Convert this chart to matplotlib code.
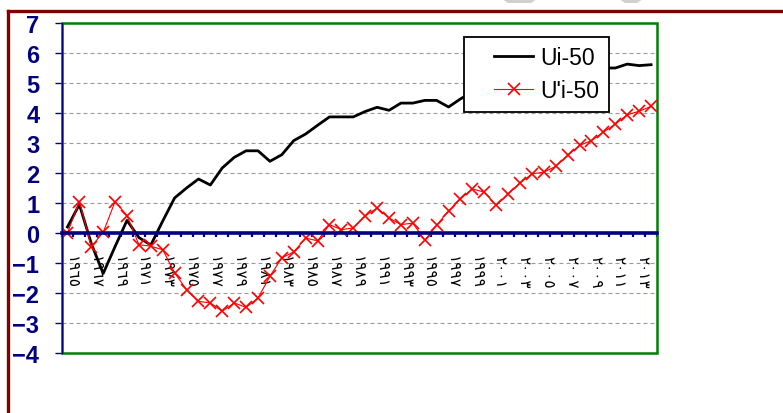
import numpy as np
import matplotlib
matplotlib.use("Agg")
import matplotlib.pyplot as plt
from matplotlib.lines import Line2D
from matplotlib.patches import Rectangle, Polygon
from matplotlib.transforms import ScaledTranslation
from matplotlib.legend_handler import HandlerLine2D

# data
years = list(range(1965, 2015))
year_labels = ['١٩٦٥', '١٩٦٧', '١٩٦٩', '١٩٧١', '١٩٧٣', '١٩٧٥', '١٩٧٧', '١٩٧٩',
               '١٩٨١', '١٩٨٣', '١٩٨٥', '١٩٨٧', '١٩٨٩', '١٩٩١', '١٩٩٣', '١٩٩٥',
               '١٩٩٧', '١٩٩٩', '٢٠٠١', '٢٠٠٣', '٢٠٠٥', '٢٠٠٧', '٢٠٠٩', '٢٠١١', '٢٠١٣']

ui50 = [0.2, 0.95, -0.35, -1.35, -0.45, 0.42, -0.15, -0.4, 0.4, 1.17,
        1.5, 1.8, 1.6, 2.17, 2.52, 2.74, 2.74, 2.39, 2.61, 3.08,
        3.3, 3.59, 3.87, 3.87, 3.87, 4.05, 4.19, 4.09, 4.33, 4.33,
        4.42, 4.42, 4.2, 4.47, 4.7, 4.8, 4.9, 5.0, 5.1, 5.2,
        5.25, 5.3, 5.35, 5.4, 5.45, 5.5, 5.5, 5.63, 5.58, 5.61]

upi50 = [0.0, 1.05, -0.45, 0.02, 1.05, 0.58, -0.39, -0.44, -0.56, -1.33,
         -1.89, -2.28, -2.33, -2.61, -2.33, -2.48, -2.17, -1.44, -0.83, -0.63,
         -0.17, -0.26, 0.28, 0.11, 0.17, 0.57, 0.83, 0.5, 0.28, 0.33,
         -0.24, 0.26, 0.74, 1.14, 1.47, 1.36, 0.92, 1.3, 1.67, 1.97,
         2.03, 2.22, 2.59, 2.92, 3.08, 3.36, 3.63, 3.94, 4.06, 4.22]

navy = '#000080'
W, H = 783, 414

fig = plt.figure(figsize=(W / 100, H / 100), dpi=100)
ax = fig.add_axes([61.5 / W, 1 - 354 / H, 595.5 / W, 330 / H])

x = np.arange(len(years))
ax.plot(x, ui50, color='black', lw=2.0, label='Ui-50', zorder=3)
ax.plot(x, upi50, color='red', lw=0.8, marker='x', ms=8, mew=1.2,
        label="U'i-50", zorder=4)

ax.set_xlim(-0.5, len(years) - 0.5)
ax.set_ylim(-4, 7)

# grid
for v in [-3, -2, -1, 1, 2, 3, 4, 5, 6]:
    ax.axhline(v, color='#9a9a9a', lw=0.8, ls=(0, (3.6, 2.7)), zorder=1)

# frame
for s in ['top', 'right']:
    ax.spines[s].set_visible(False)
ax.add_patch(Rectangle((0, 0), 1, 1, transform=ax.transAxes, fill=False,
                       ec='#008000', lw=1.8, clip_on=False, zorder=2))
ax.spines['left'].set_color(navy)
ax.spines['left'].set_linewidth(1.0)
ax.spines['left'].set_zorder(5)
ax.spines['bottom'].set_position(('data', 0))
ax.spines['bottom'].set_color(navy)
ax.spines['bottom'].set_linewidth(2.6)
ax.spines['bottom'].set_zorder(5)

# y axis
ax.set_yticks(range(-4, 8))
ax.tick_params(axis='y', direction='out', length=5, width=1, color=navy,
               pad=11, labelsize=17, labelcolor=navy)
for t in ax.get_yticklabels():
    t.set_fontfamily('Liberation Sans')
    t.set_fontweight('bold')

# x axis: ticks at category boundaries, labels every second year
ax.set_xticks(x[::2])
ax.set_xticklabels(year_labels, rotation=-90, fontsize=11,
                   family=['DejaVu Sans'], color='black')
ax.set_xticks(np.arange(len(years) + 1) - 0.5, minor=True)
ax.tick_params(axis='x', which='major', length=0, pad=16)
ax.tick_params(axis='x', which='minor', direction='out', length=3.2,
               width=1.6, color=navy)
off = ScaledTranslation(4 / 100, 0, fig.dpi_scale_trans)
for t in ax.get_xticklabels():
    t.set_transform(t.get_transform() + off)

# legend
leg = ax.legend(loc='upper left', bbox_to_anchor=(0.676, 0.958),
                prop={'family': 'Liberation Sans', 'size': 16.5},
                frameon=True, fancybox=False, edgecolor='black',
                framealpha=1, borderpad=0.42, labelspacing=0.42,
                handlelength=2.6, handletextpad=0.3, borderaxespad=0,
                handler_map={Line2D: HandlerLine2D(xpad=0.9)})
leg.get_frame().set_linewidth(1.3)
leg.set_zorder(10)

# outer maroon border (cut by the image edges)
maroon = '#800000'
fig.add_artist(Line2D([8 / W, 1], [1 - 11.5 / H] * 2, color=maroon, lw=2.4))
fig.add_artist(Line2D([8 / W] * 2, [0, 1 - 11.5 / H], color=maroon, lw=2.4))

# grey shapes peeking in at the top edge
for xs in [(502, 537), (619, 643)]:
    pts = [(xs[0] / W, 1), (xs[1] / W, 1), ((xs[1] - 6) / W, 1 - 4 / H),
           ((xs[0] + 6) / W, 1 - 4 / H)]
    fig.add_artist(Polygon(pts, closed=True, color='#d0d0d0', lw=0))

fig.savefig('out.png', dpi=100)
